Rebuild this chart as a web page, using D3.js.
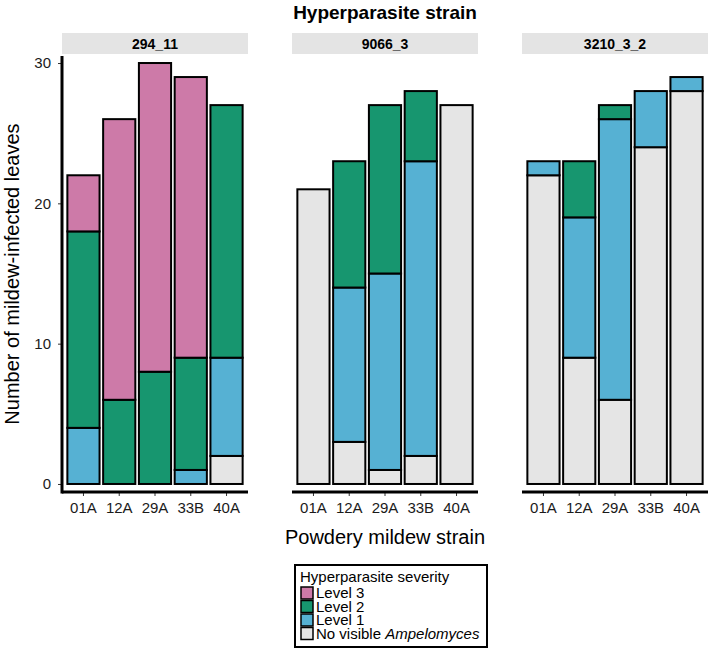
<!DOCTYPE html>
<html>
<head>
<meta charset="utf-8">
<script src="https://cdn.jsdelivr.net/npm/d3@7"></script>
<style>
  html, body { margin: 0; padding: 0; background: #fff; }
  svg { display: block; font-family: "Liberation Sans", Arial, Helvetica, sans-serif; }
</style>
</head>
<body>
<svg id="chart" width="709" height="649"></svg>
<script>
// ---- data ----
const strains = ["294_11", "9066_3", "3210_3_2"];
const mildew = ["01A", "12A", "29A", "33B", "40A"];
const severities = ["none", "level1", "level2", "level3"];
const severityLabels = ["Level 3", "Level 2", "Level 1", "No visible"];
const noneVals   = [[0, 0, 0, 0, 2], [21, 3, 1, 2, 27], [22, 9, 6, 24, 28]];
const level1Vals = [[4, 0, 0, 1, 7], [0, 11, 14, 21, 0], [1, 10, 20, 4, 1]];
const level2Vals = [[14, 6, 8, 8, 18], [0, 9, 12, 5, 0], [0, 4, 1, 0, 0]];
const level3Vals = [[4, 20, 22, 20, 0], [0, 0, 0, 0, 0], [0, 0, 0, 0, 0]];
const yTicks = [0, 10, 20, 30];

const colors = { none: "#E5E5E5", level1: "#56B1D3", level2: "#17966F", level3: "#CD7AA8" };

const svg = d3.select("#chart");

const panelX = [[62, 248], [292, 478], [522, 708]];
const panelTop = 56, panelBottom = 491;

const y = d3.scaleLinear().domain([-0.5, 30.5]).range([panelBottom, panelTop]);

// title
svg.append("text").attr("x", 385).attr("y", 19).attr("text-anchor", "middle")
  .attr("font-size", 19).attr("font-weight", "bold").text("Hyperparasite strain");

strains.forEach((s, i) => {
  const [x0, x1] = panelX[i];
  const x = d3.scaleBand().domain(mildew).range([x0, x1]).paddingInner(0.1).paddingOuter(0.15);
  const g = svg.append("g");

  // strip
  g.append("rect").attr("x", x0).attr("y", 33).attr("width", x1 - x0).attr("height", 21).attr("fill", "#E4E4E4");
  g.append("text").attr("x", (x0 + x1) / 2).attr("y", 49).attr("text-anchor", "middle")
    .attr("font-size", 14).attr("font-weight", "bold").text(s);

  const rows = mildew.map((m, j) => ({
    m, none: noneVals[i][j], level1: level1Vals[i][j], level2: level2Vals[i][j], level3: level3Vals[i][j]
  }));
  const stacked = d3.stack().keys(severities)(rows);
  stacked.forEach(layer => {
    g.append("g").selectAll("rect").data(layer.filter(d => d[1] - d[0] > 0)).join("rect")
      .attr("x", d => x(d.data.m))
      .attr("width", x.bandwidth())
      .attr("y", d => y(d[1]))
      .attr("height", d => y(d[0]) - y(d[1]))
      .attr("fill", colors[layer.key])
      .attr("stroke", "#000").attr("stroke-width", 2);
  });

  // x axis
  const xa = g.append("g").attr("transform", `translate(0,${panelBottom + 1})`)
    .call(d3.axisBottom(x).tickSize(4).tickPadding(6));
  xa.select(".domain").remove();
  xa.selectAll(".tick line").attr("stroke", "#333").attr("stroke-width", 1);
  xa.selectAll(".tick text").attr("font-size", 15).attr("fill", "#1a1a1a")
    .attr("font-family", "'Liberation Sans', Arial, sans-serif");
  g.append("line").attr("x1", x0).attr("x2", x1).attr("y1", panelBottom + 1).attr("y2", panelBottom + 1)
    .attr("stroke", "#000").attr("stroke-width", 3);

  if (i === 0) {
    const ya = g.append("g").attr("transform", `translate(${x0},0)`)
      .call(d3.axisLeft(y).tickValues(yTicks).tickSize(4).tickPadding(7));
    ya.select(".domain").remove();
    ya.selectAll(".tick line").attr("stroke", "#333").attr("stroke-width", 1);
    ya.selectAll(".tick text").attr("font-size", 15).attr("fill", "#1a1a1a")
      .attr("font-family", "'Liberation Sans', Arial, sans-serif");
    g.append("line").attr("x1", x0).attr("x2", x0).attr("y1", panelTop).attr("y2", panelBottom + 2.5)
      .attr("stroke", "#000").attr("stroke-width", 3);
  }
});

// axis titles
svg.append("text").attr("x", 385).attr("y", 544).attr("text-anchor", "middle")
  .attr("font-size", 20).text("Powdery mildew strain");
svg.append("text").attr("transform", "translate(19,274) rotate(-90)").attr("text-anchor", "middle")
  .attr("font-size", 20).text("Number of mildew-infected leaves");

// legend
const lg = svg.append("g");
lg.append("rect").attr("x", 295).attr("y", 565).attr("width", 192).attr("height", 82)
  .attr("fill", "#fff").attr("stroke", "#000").attr("stroke-width", 2);
lg.append("text").attr("x", 300).attr("y", 582).attr("font-size", 15).text("Hyperparasite severity");
const legendKeys = ["level3", "level2", "level1", "none"];
legendKeys.forEach((k, idx) => {
  const base = 598 + idx * 13.5;
  lg.append("rect").attr("x", 301).attr("y", base - 11).attr("width", 12).attr("height", 12)
    .attr("fill", colors[k]).attr("stroke", "#000").attr("stroke-width", 1.5);
  const t = lg.append("text").attr("x", 316).attr("y", base).attr("font-size", 15);
  if (k === "none") {
    t.append("tspan").text(severityLabels[idx] + " ");
    t.append("tspan").attr("font-style", "italic").text("Ampelomyces");
  } else {
    t.text(severityLabels[idx]);
  }
});
</script>
</body>
</html>
